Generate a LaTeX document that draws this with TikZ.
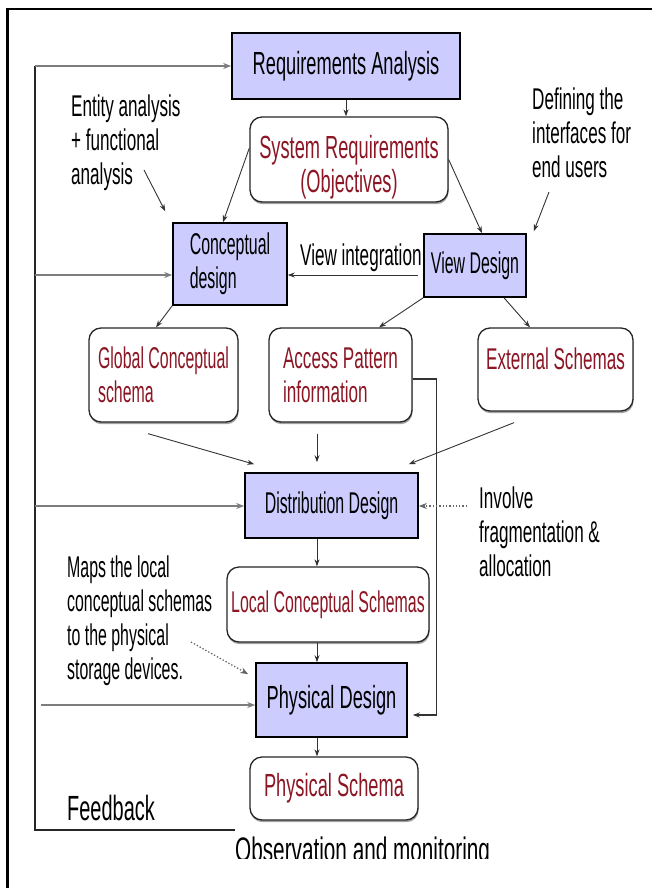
\documentclass[tikz,border=0pt]{standalone}
\usepackage{fontspec}
\setmainfont{Liberation Sans}[FakeStretch=0.53]
\newfontfamily\fA{Liberation Sans}[FakeStretch=0.57]
\newfontfamily\fB{Liberation Sans}[FakeStretch=0.61]
\usetikzlibrary{arrows.meta,shadows}
\definecolor{lav}{RGB}{204,204,255}
\definecolor{dred}{RGB}{140,22,36}
\definecolor{lgray}{RGB}{125,125,125}
\begin{document}
\begin{tikzpicture}[x=1pt,y=-1pt,
  every node/.style={font=\fontsize{30}{34}\selectfont, inner sep=0pt},
  big/.style={font=\fA\fontsize{32}{34}\selectfont},
  ann/.style={font=\fA\fontsize{30}{34}\selectfont},
  sq/.style={draw=black, line width=1.6pt, fill=lav},
  rb/.style={draw=black!85, line width=1.3pt, fill=white, rounded corners=12pt, text=dred,
    drop shadow={shadow xshift=0.6pt, shadow yshift=-2.2pt, fill=black!45, opacity=0.8}},
  arr/.style={draw=black!80, line width=0.9pt, -{Stealth[length=7pt,width=5pt]}},
  fbk/.style={draw=lgray, line width=2.2pt, -{Stealth[length=8pt,width=6pt]}},
  dotarr/.style={draw=black!60, dotted, line width=1.3pt, -{Stealth[length=8pt,width=6pt]}}
]
\useasboundingbox (0,0) rectangle (652,888);
% frame
\draw[line width=2.6pt] (7.5,888) -- (7.5,9) -- (652,9);

% boxes
\node[sq, big, minimum width=228pt, minimum height=66pt] (RA) at (346,66) {Requirements Analysis};
\node[rb, big, minimum width=198pt, minimum height=85pt, align=center, text height=72pt] (SR) at (349,159.5) {System Requirements\\(Objectives)};
\node[sq, minimum width=114pt, minimum height=82pt, align=left] (CD) at (230,264) {Conceptual\\design};
\node[sq, minimum width=102pt, minimum height=63pt] (VD) at (475,265.5) {View Design};
\node[rb, minimum width=149pt, minimum height=94pt, align=left] (GCS) at (163.5,375) {Global Conceptual\\schema};
\node[rb, ann, minimum width=143pt, minimum height=94pt, align=left] (API) at (340.5,375) {Access Pattern\\information};
\node[rb, ann, minimum width=155pt, minimum height=83pt, text depth=21pt] (ES) at (555.5,369.5) {External Schemas};
\node[sq, minimum width=173pt, minimum height=65pt] (DD) at (331.5,505.5) {Distribution Design};
\node[rb, minimum width=202pt, minimum height=75pt] (LCS) at (328,604.5) {Local Conceptual Schemas};
\node[sq, big, minimum width=151pt, minimum height=74pt] (PD) at (331.5,700) {Physical Design};
\node[rb, big, minimum width=168pt, minimum height=63pt] (PS) at (334,788.5) {Physical Schema};

% annotations
\node[ann, align=left, anchor=west] (ENT) at (71,143) {Entity analysis\\+ functional\\analysis};
\node[ann, align=left, anchor=west] (DEF) at (532,133) {Defining the\\interfaces for\\end users};
\node[ann, anchor=west] (VI) at (300,258) {View integration};
\node[ann, align=left, anchor=west] (INV) at (479,532) {Involve\\fragmentation \&\\allocation};
\node[align=left, anchor=west] (MAP) at (67,621) {Maps the local\\conceptual schemas\\to the physical\\storage devices.};
\node[anchor=west, font=\fA\fontsize{35}{36}\selectfont] (FB) at (67,808) {Feedback};
\begin{scope}
\clip (0,0) rectangle (652,858);
\node[anchor=base west, font=\fB\fontsize{34}{36}\selectfont] (OBS) at (235,861) {Observation and monitoring};
\end{scope}

% feedback loop
\coordinate (fbt) at (35,66);
\coordinate (fbb) at (35,830);
\draw[draw=black!85, line width=1.6pt] (fbt) -- (fbb) -- (fbb -| OBS.west);
\draw[fbk] (fbt) -- (RA.west);
\coordinate (fb2) at (35,275);
\draw[fbk] (fb2) -- (fb2 -| CD.west);
\coordinate (fb3) at (35,506);
\draw[fbk] (fb3) -- (fb3 -| DD.west);
\coordinate (fb4) at (41,705);
\draw[fbk] (fb4) -- (fb4 -| PD.west);

% connectors
\draw[arr] (RA.south) -- (RA.south |- SR.north);
\draw[arr] ([shift={(0,-11.5)}]SR.west) -- ([shift={(-7,0)}]CD.north);
\draw[arr] (SR.east) -- ([shift={(7,0)}]VD.north);
\coordinate (entA) at (144,170);
\draw[arr] (entA) -- ([shift={(-7,-11)}]CD.north west);
\coordinate (defA) at (549,192);
\draw[arr] (defA) -- ([shift={(7,-2)}]VD.north east);
\coordinate (vi) at ([shift={(-5,9.5)}]VD.west);
\draw[arr] (vi) -- (vi -| CD.east);
\draw[arr] (CD.south west) -- ([shift={(-7.5,0)}]GCS.north);
\draw[arr] (VD.south west) -- ([shift={(38.5,0)}]API.north);
\draw[arr] ([shift={(29,0)}]VD.south) -- ([shift={(-25.5,0)}]ES.north);
\draw[arr] ([shift={(-15.5,11)}]GCS.south) -- ([shift={(10,-8)}]DD.north west);
\draw[arr] ([shift={(-23.5,11)}]API.south) -- ([shift={(-14.5,-10)}]DD.north);
\draw[arr] ([shift={(-41.5,11)}]ES.south) -- ([shift={(-10,-8)}]DD.north east);
\coordinate (dl) at ([shift={(-14.5,0)}]DD.south);
\draw[arr] (dl) -- (dl |- LCS.north);
\coordinate (lp) at ([shift={(-11,0)}]LCS.south);
\draw[arr] (lp) -- (lp |- PD.north);
\coordinate (pp) at ([shift={(-14.5,0)}]PD.south);
\draw[arr] (pp) -- (pp |- PS.north);
\coordinate (as) at ([shift={(0,4)}]API.east);
\coordinate (ae) at ([shift={(5,15)}]PD.east);
\draw[arr, line width=1.3pt] (as) -- ++(24,0) |- (ae);
\coordinate (inv) at (467,506);
\draw[dotarr] (inv) -- (inv -| DD.east);
\coordinate (mapA) at (191,642);
\draw[dotarr] (mapA) -- ([shift={(-7,12)}]PD.north west);
\end{tikzpicture}
\end{document}
